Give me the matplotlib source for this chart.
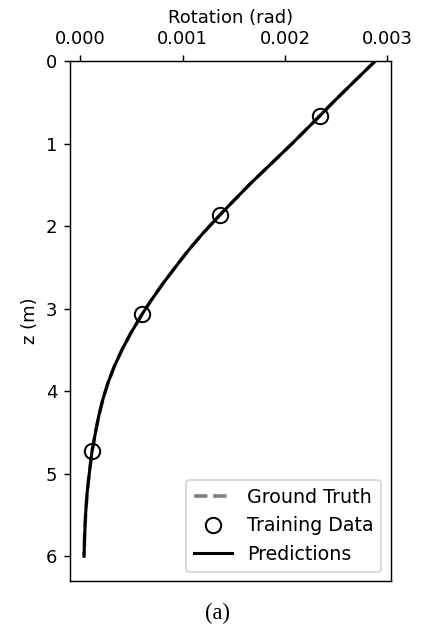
import matplotlib.pyplot as plt

# Pile rotation profile along depth
z_curve = [0.0, 0.25, 0.5, 0.665, 1.0, 1.25, 1.5, 1.87, 2.1, 2.3, 2.5, 2.7, 2.9,
           3.07, 3.3, 3.5, 3.7, 3.9, 4.1, 4.3, 4.5, 4.73, 5.0, 5.25, 5.5, 5.75, 6.0]
rot_truth = [0.002882, 0.002675, 0.00247, 0.00234, 0.00207, 0.00186, 0.00165,
             0.00136, 0.001189, 0.001052, 0.000927, 0.000805, 0.000692,
             0.000602, 0.000492, 0.000406, 0.000332, 0.00027, 0.00022, 0.00018,
             0.000148, 0.000114, 0.000087, 0.000065, 0.000051, 0.000042, 0.0000363]
rot_pred = rot_truth

# Training samples
z_train = [0.665, 1.87, 3.07, 4.727]
rot_train = [0.00234, 0.00136, 0.000602, 0.000112]

dpi = 130
fig = plt.figure(figsize=(422 / dpi, 629 / dpi), dpi=dpi)
ax = fig.add_axes([70 / 422, 1 - 581 / 629, 320.7 / 422, 520 / 629])

ax.plot(rot_truth, z_curve, '--', color='gray', lw=2, label='Ground Truth')
ax.plot(rot_train, z_train, 'o', mfc='none', mec='black', ms=8.5, mew=1.1, label='Training Data')
ax.plot(rot_pred, z_curve, '-', color='black', lw=1.7, label='Predictions')

ax.set_xlim(-0.000101, 0.003033)
ax.set_ylim(6.3, 0)
ax.set_xticks([0.0, 0.001, 0.002, 0.003])
ax.set_xticklabels(['0.000', '0.001', '0.002', '0.003'])
ax.xaxis.tick_top()
ax.xaxis.set_label_position('top')
ax.set_xlabel('Rotation (rad)')
ax.set_ylabel('z (m)')

ax.legend(loc='lower right', fontsize=10.5)

fig.text(217 / 422, 1 - 613 / 629, '(a)', ha='center', va='center',
         family='Liberation Serif', fontsize=12.5)

fig.savefig('out.png', dpi=dpi)
